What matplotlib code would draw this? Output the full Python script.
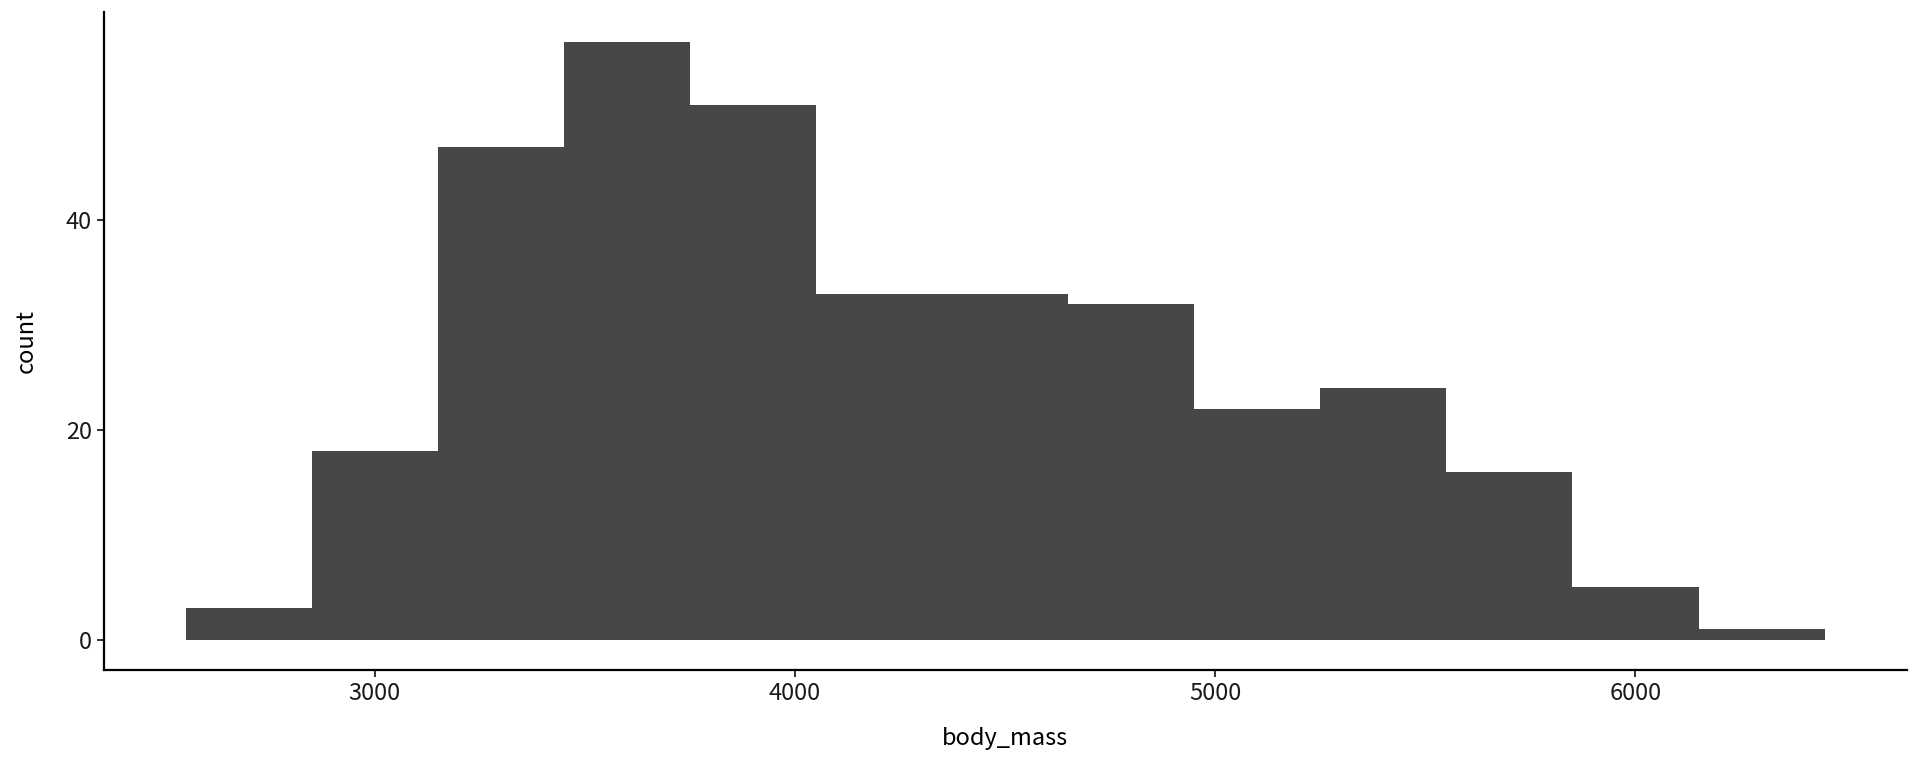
import numpy as np
import matplotlib.pyplot as plt

plt.rcParams['font.family'] = ['Noto Sans CJK JP', 'DejaVu Sans']

# bin edges (binwidth 300) and counts
bin_edges = [2550, 2850, 3150, 3450, 3750, 4050, 4350, 4650, 4950, 5250, 5550, 5850, 6150, 6450]
counts = [3, 18, 47, 57, 51, 33, 33, 32, 22, 24, 16, 5, 1]

fig = plt.figure(figsize=(19.2, 7.68), dpi=100)
ax = fig.add_axes([0.054, 0.128, 0.939, 0.856])

lefts = np.array(bin_edges[:-1])
widths = np.diff(bin_edges)
ax.bar(lefts, counts, width=widths, align='edge', color='#474747', linewidth=0)

# ggplot-style 5% expansion
xr = bin_edges[-1] - bin_edges[0]
ax.set_xlim(bin_edges[0] - 0.05 * xr, bin_edges[-1] + 0.05 * xr)
yr = max(counts)
ax.set_ylim(-0.05 * yr, yr * 1.05)

ax.set_xticks([3000, 4000, 5000, 6000])
ax.set_yticks([0, 20, 40])
ax.set_xlabel('body_mass', fontsize=17, labelpad=16)
ax.set_ylabel('count', fontsize=17, labelpad=20)

for s in ['top', 'right']:
    ax.spines[s].set_visible(False)
for s in ['left', 'bottom']:
    ax.spines[s].set_linewidth(1.6)
ax.tick_params(axis='both', labelsize=17, length=5, width=1.3, color='#222222', labelcolor='#1a1a1a')

fig.savefig('out.png', dpi=100)
